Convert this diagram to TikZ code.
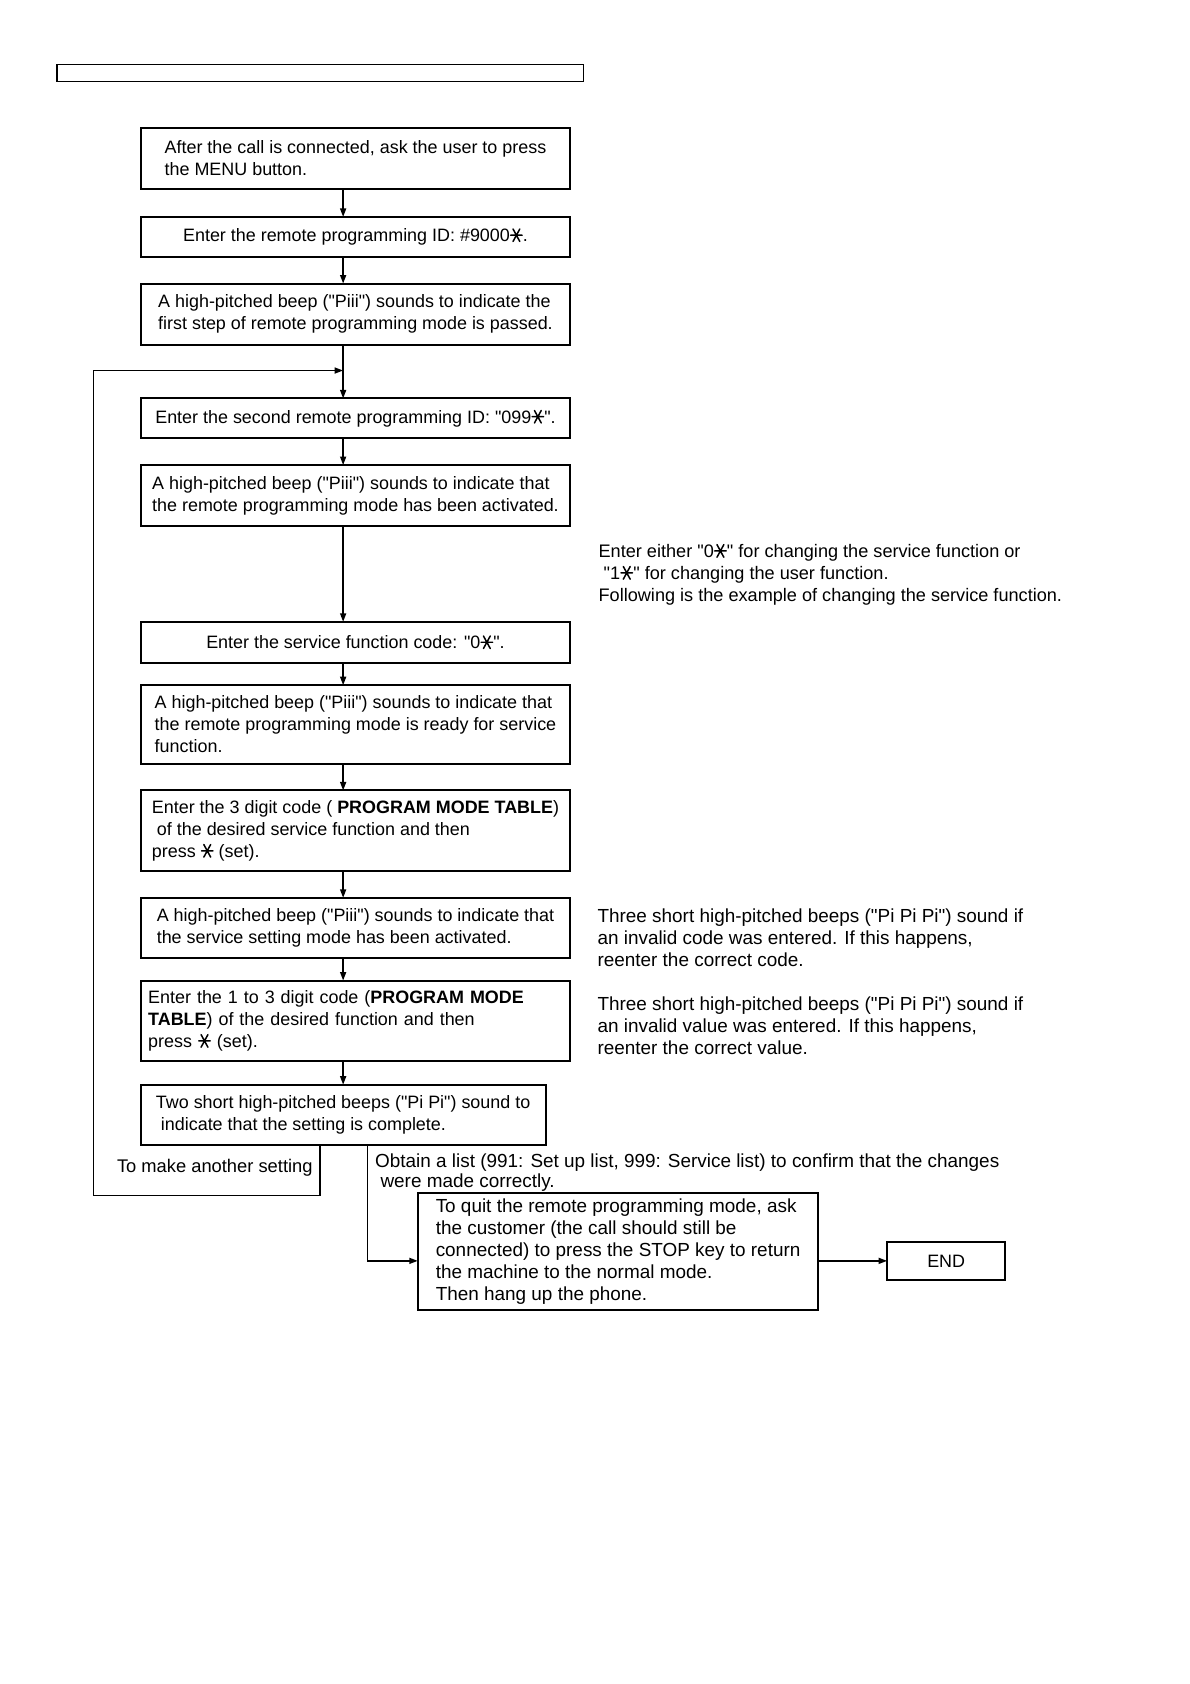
\documentclass[tikz,border=0pt]{standalone}
\usepackage{fontspec}
\setmainfont{Liberation Sans}[Ligatures=TeXOff]
\usetikzlibrary{arrows.meta, positioning}

\newlength{\pxu}
\setlength{\pxu}{0.1895mm}

% star key as printed on the handset
\newcommand{\pkey}{\tikz[baseline=0pt, line width=0.75pt, line cap=round]{%
  \path (0,0) (0.72em,0);
  \draw (0.36em,0.36em) +(-0.32em,0) -- +(0.32em,0)
    +(-0.19em,-0.35em) -- +(0.19em,0.35em)
    +(-0.19em,0.35em) -- +(0.19em,-0.35em);}}

\tikzset{
  block/.style={
    rectangle, draw, line width=1pt, outer sep=0pt,
    minimum width=400\pxu, inner xsep=4\pxu, inner ysep=0pt,
    align=left, font=\fontsize{9}{11}\selectfont,
  },
  endblock/.style={block, minimum width=110\pxu, minimum height=36\pxu, align=center},
  note/.style={anchor=north west, inner sep=0pt, align=left, font=\fontsize{9.5}{11}\selectfont},
  arrow/.style={-{Triangle[length=1.5mm, width=1.05mm]}, line width=0.8pt},
}

\begin{document}
\begin{tikzpicture}[x=0.1895mm, y=-0.1895mm]
  \useasboundingbox (0,0) rectangle (1108,1568);

  % header frame at the top of the page
  \draw[line width=0.6pt] (53,60) rectangle (543,76);

  % Main column
  \node[block, anchor=north, minimum height=57\pxu] (login) at (331,119)
    {After the call is connected, ask the user to press\\the MENU button.};
  \node[block, minimum height=37\pxu, below=26\pxu of login] (firstid)
    {Enter the remote programming ID: \#9000\pkey.};
  \node[block, minimum height=57\pxu, below=25\pxu of firstid] (passed)
    {A high-pitched beep ("Piii") sounds to indicate the\\first step of remote programming mode is passed.};
  \node[block, minimum height=37\pxu, below=50\pxu of passed] (secondid)
    {Enter the second remote programming ID: "099\pkey".};
  \node[block, minimum height=57\pxu, below=25\pxu of secondid] (active)
    {A high-pitched beep ("Piii") sounds to indicate that\\the remote programming mode has been activated.};
  \node[block, minimum height=38\pxu, below=89\pxu of active] (svccode)
    {Enter the service function code: "0\pkey".};
  \node[block, minimum height=73\pxu, below=21\pxu of svccode] (ready)
    {A high-pitched beep ("Piii") sounds to indicate that\\the remote programming mode is ready for service\\function.};
  \node[block, minimum height=75\pxu, below=25\pxu of ready] (digit3)
    {Enter the 3 digit code ( \textbf{PROGRAM MODE TABLE})\\\hspace*{0.28em}of the desired service function and then\\press \pkey{} (set).};
  \node[block, minimum height=56\pxu, below=25\pxu of digit3] (setmode)
    {A high-pitched beep ("Piii") sounds to indicate that\\the service setting mode has been activated.};
  \node[block, minimum height=75\pxu, text width=386\pxu, inner xsep=7\pxu, below=21\pxu of setmode] (value)
    {Enter the 1 to 3 digit code (\textbf{PROGRAM MODE}\\\textbf{TABLE}) of the desired function and then\\press \pkey{} (set).};
  \node[block, anchor=north west, minimum width=377\pxu, minimum height=56\pxu] (complete) at (131,1010)
    {Two short high-pitched beeps ("Pi Pi") sound to\\\hspace*{0.28em}indicate that the setting is complete.};

  % Finishing steps
  \node[block, anchor=north west, minimum width=373\pxu, minimum height=109\pxu,
    font=\fontsize{9.5}{11}\selectfont] (quit) at (389,1111)
    {To quit the remote programming mode, ask\\the customer (the call should still be\\connected) to press the STOP key to return\\the machine to the normal mode.\\Then hang up the phone.};
  \node[endblock, anchor=north west] (finish) at (826,1156) {END};

  % Side notes
  \node[note, font=\fontsize{9.1}{11}\selectfont] (choose) at (557,506)
    {Enter either "0\pkey" for changing the service function or\\\hspace*{0.28em}"1\pkey" for changing the user function.\\Following is the example of changing the service function.};
  \node[note] (badcode) at (556,846)
    {Three short high-pitched beeps ("Pi Pi Pi") sound if\\an invalid code was entered. If this happens,\\reenter the correct code.};
  \node[note] (badvalue) at (556,928)
    {Three short high-pitched beeps ("Pi Pi Pi") sound if\\an invalid value was entered. If this happens,\\reenter the correct value.};
  \node[note, font=\fontsize{9.5}{10}\selectfont] (listnote) at (349,1074)
    {Obtain a list (991: Set up list, 999: Service list) to confirm that the changes\\\hspace*{0.28em}were made correctly.};
  \node[note, anchor=center, font=\fontsize{9.2}{11}\selectfont] (again) at (200,1087) {To make another setting};

  % Arrows down the main column
  \foreach \from/\to in {login/firstid, firstid/passed, passed/secondid,
    secondid/active, active/svccode, svccode/ready, ready/digit3,
    digit3/setmode, setmode/value, value/complete}
    \draw[arrow] (\from.south -| complete.south) -- (\to.north -| complete.south);

  % Loop back for another setting
  \coordinate (merge) at (319.5,345);
  \coordinate (backx) at (298,1113);
  \coordinate (leftx) at (87,1113);
  \draw[arrow] (complete.south -| backx) -- (backx) -- (leftx) -- (leftx |- merge) -- (merge);

  % Forward to quitting
  \coordinate (fwdx) at (342,1066);
  \draw[arrow] (complete.south -| fwdx) |- (quit.west |- finish.west);
  \draw[arrow] (quit.east |- finish.west) -- (finish.west);
\end{tikzpicture}
\end{document}
